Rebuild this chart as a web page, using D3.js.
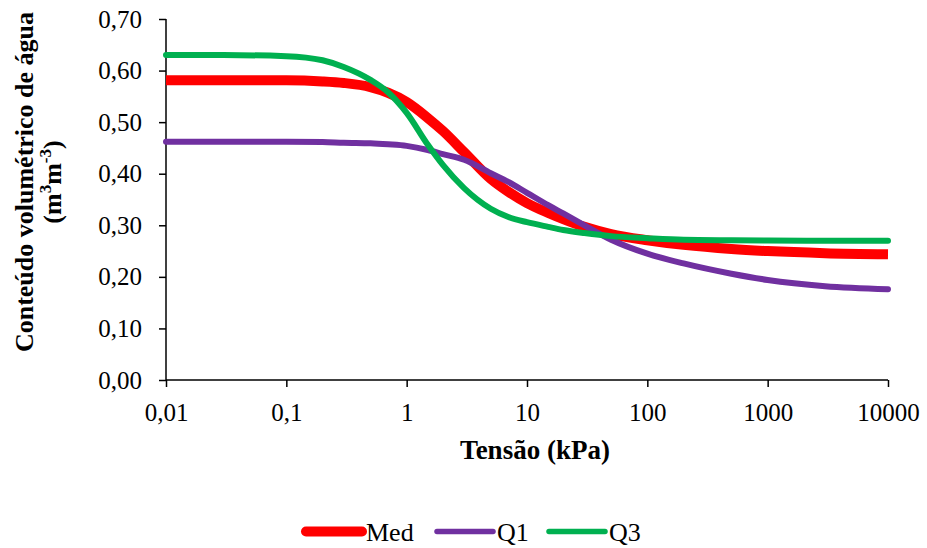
<!DOCTYPE html>
<html>
<head>
<meta charset="utf-8">
<script src="https://cdn.jsdelivr.net/npm/d3@7"></script>
<style>
  html, body { margin: 0; padding: 0; background: #fff; }
  svg { display: block; }
  text { font-family: "Liberation Serif", "Times New Roman", serif; fill: #000; }
</style>
</head>
<body>
<svg id="chart" width="927" height="548"></svg>
<script>
// Tension (kPa) at which each curve is sampled
const tensao = [0.01, 0.03, 0.1, 0.2, 0.3, 0.5, 0.7, 1, 1.5, 2, 3, 5, 7, 10, 15, 20, 30, 50, 100, 200, 500, 1000, 3000, 10000];

// Volumetric water content (m3 m-3)
const med = [0.581, 0.581, 0.581, 0.579, 0.576, 0.568, 0.557, 0.539, 0.508, 0.483, 0.442, 0.390, 0.365, 0.343, 0.324, 0.312, 0.297, 0.283, 0.271, 0.262, 0.254, 0.250, 0.246, 0.244];
const q1  = [0.462, 0.462, 0.462, 0.4615, 0.460, 0.459, 0.457, 0.454, 0.446, 0.438, 0.427, 0.401, 0.384, 0.363, 0.339, 0.323, 0.300, 0.272, 0.245, 0.226, 0.206, 0.194, 0.182, 0.176];
const q3  = [0.630, 0.630, 0.628, 0.620, 0.607, 0.582, 0.558, 0.518, 0.456, 0.417, 0.372, 0.332, 0.316, 0.306, 0.297, 0.291, 0.285, 0.279, 0.275, 0.272, 0.271, 0.2705, 0.270, 0.270];

// Axis ticks
const xTicks = [0.01, 0.1, 1, 10, 100, 1000, 10000];
const xTickLabels = ["0,01", "0,1", "1", "10", "100", "1000", "10000"];
const yTicks = [0, 0.1, 0.2, 0.3, 0.4, 0.5, 0.6, 0.7];

const seriesNames = ["Med", "Q1", "Q3"];
const seriesValues = [med, q1, q3];
const seriesColors = ["#FF0000", "#7030A0", "#00B050"];
const seriesWidths = [10, 6, 6];

const svg = d3.select("#chart");

const x = d3.scaleLog().domain([0.01, 10000]).range([166, 888]);
const y = d3.scaleLinear().domain([0, 0.7]).range([380, 19]);

const comma = d3.formatLocale({ decimal: ",", thousands: ".", grouping: [3], currency: ["", ""] });
const fmtY = comma.format(".2f");

// Y axis
const yAxis = d3.axisLeft(y).tickValues(yTicks).tickSize(7).tickPadding(17).tickFormat(fmtY);
const gy = svg.append("g").attr("transform", "translate(166,0)").call(yAxis);
gy.select(".domain").attr("stroke", "#000").attr("stroke-width", 1.5).attr("d", "M0,19V380");
gy.selectAll(".tick line").attr("stroke", "#000").attr("stroke-width", 1.5);
gy.selectAll(".tick text").attr("font-size", 25);

// X axis
const xAxis = d3.axisBottom(x).tickValues(xTicks).tickSize(7).tickPadding(16)
  .tickFormat((d, i) => xTickLabels[i]);
const gx = svg.append("g").attr("transform", "translate(0,380)").call(xAxis);
gx.select(".domain").attr("stroke", "#000").attr("stroke-width", 1.5).attr("d", "M166,0H888");
gx.selectAll(".tick line").attr("stroke", "#000").attr("stroke-width", 1.5);
gx.selectAll(".tick text").attr("font-size", 25);

// Curves
const line = d3.line()
  .x((d, i) => x(tensao[i]))
  .y(d => y(d))
  .curve(d3.curveMonotoneX);

seriesValues.forEach((vals, k) => {
  svg.append("path")
    .datum(vals)
    .attr("fill", "none")
    .attr("stroke", seriesColors[k])
    .attr("stroke-width", seriesWidths[k])
    .attr("stroke-linecap", k === 0 ? "butt" : "round")
    .attr("stroke-linejoin", "round")
    .attr("d", line);
});

// Axis titles
svg.append("text")
  .attr("x", 535).attr("y", 459)
  .attr("text-anchor", "middle")
  .attr("font-size", 27).attr("font-weight", "bold")
  .text("Tensão (kPa)");

const yTitle = svg.append("g").attr("transform", "translate(0,182) rotate(-90)");
yTitle.append("text")
  .attr("x", 0).attr("y", 33)
  .attr("text-anchor", "middle")
  .attr("font-size", 26).attr("font-weight", "bold")
  .text("Conteúdo volumétrico de água");
const unit = yTitle.append("text")
  .attr("x", 0).attr("y", 61)
  .attr("text-anchor", "middle")
  .attr("font-size", 26).attr("font-weight", "bold");
unit.append("tspan").text("(m");
unit.append("tspan").attr("font-size", 17).attr("dy", -10).text("3");
unit.append("tspan").attr("dy", 10).text("m");
unit.append("tspan").attr("font-size", 17).attr("dy", -10).text("-3");
unit.append("tspan").attr("dy", 10).text(")");

// Legend
const legendX = [306, 437, 549];
const legend = svg.append("g");
seriesNames.forEach((name, k) => {
  legend.append("line")
    .attr("x1", legendX[k]).attr("x2", legendX[k] + 56)
    .attr("y1", 531.5).attr("y2", 531.5)
    .attr("stroke", seriesColors[k])
    .attr("stroke-width", k === 0 ? 10 : 5.5)
    .attr("stroke-linecap", "round");
  legend.append("text")
    .attr("x", legendX[k] + 60).attr("y", 541)
    .attr("font-size", 26)
    .text(name);
});
</script>
</body>
</html>
